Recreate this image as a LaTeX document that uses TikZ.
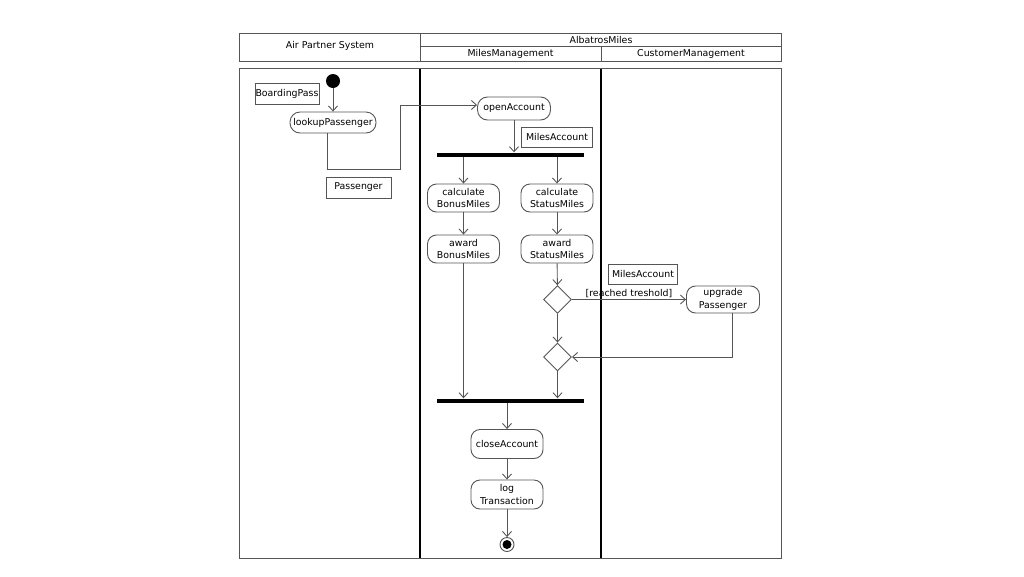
\documentclass[tikz,border=0pt]{standalone}
\usepackage{fontspec}
\setmainfont{DejaVu Sans}
\usetikzlibrary{arrows.meta,shapes.geometric}
\definecolor{ln}{HTML}{555555}
\tikzset{
  txt/.style={font=\fontsize{9.4}{12.8}\selectfont, text=black},
  act/.style={txt, draw=ln, line width=0.9pt, rounded corners=9pt, align=center, inner sep=0pt},
  obj/.style={txt, draw=ln, line width=0.9pt, inner sep=0pt},
  bar/.style={fill=black, inner sep=0pt, minimum width=147pt, minimum height=4pt},
  dec/.style={diamond, draw=ln, line width=0.9pt, inner sep=0pt, minimum width=28pt, minimum height=28pt},
  arr/.style={draw=ln, line width=0.9pt, -{Straight Barb[length=5pt,width=9pt]}},
  cell/.style={draw=ln, line width=0.9pt},
  lane/.style={draw=black, line width=1.6pt}
}
\begin{document}
\begin{tikzpicture}[x=1pt,y=-1pt]
\useasboundingbox (0,0) rectangle (1024,576);
\fill[white] (0,0) rectangle (1024,576);
% header
\draw[cell] (239,33) rectangle (781,61);
\draw[cell] (420,33) -- (420,61);
\draw[cell] (420,46) -- (781,46);
\draw[cell] (601,46) -- (601,61);
\node[txt] (hA) at (330,46) {Air Partner System};
\node[txt] (hB) at (601,39.5) {AlbatrosMiles};
\node[txt] (hC) at (510.5,53.5) {MilesManagement};
\node[txt] (hD) at (691,53.5) {CustomerManagement};
% body
\draw[cell] (239,68.5) rectangle (781,558);
\draw[lane] (420,68.5) -- (420,558);
\draw[lane] (601,68.5) -- (601,558);
% nodes
\node[circle, fill=black, inner sep=0pt, minimum size=14pt] (init) at (333,81) {};
\node[obj, minimum width=64pt, minimum height=21pt] (bp) at (287,93.5) {BoardingPass};
\node[act, minimum width=86pt, minimum height=21pt, rounded corners=10pt] (lookup) at (333,122.5) {lookupPassenger};
\node[obj, minimum width=65pt, minimum height=21pt] (pas) at (358.5,187.5) {Passenger};
\node[act, minimum width=73pt, minimum height=23pt, rounded corners=10pt] (open) at (514,108.5) {openAccount};
\node[obj, minimum width=71pt, minimum height=20pt] (ma1) at (557,137) {MilesAccount};
\node[bar] (fork) at (510.5,154.5) {};
\node[act, minimum width=72pt, minimum height=28pt] (cbm) at (463.5,198) {calculate\\BonusMiles};
\node[act, minimum width=72pt, minimum height=28pt] (csm) at (557,198) {calculate\\StatusMiles};
\node[act, minimum width=72pt, minimum height=28pt] (abm) at (463.5,249) {award\\BonusMiles};
\node[act, minimum width=72pt, minimum height=28pt] (asm) at (557,249) {award\\StatusMiles};
\node[dec] (d1) at (557.5,299.5) {};
\node[dec] (d2) at (557.5,357) {};
\node[obj, minimum width=69pt, minimum height=20pt] (ma2) at (643,274) {MilesAccount};
\node[act, minimum width=73pt, minimum height=27pt] (up) at (723,299.5) {upgrade\\Passenger};
\node[bar] (join) at (510.5,400.5) {};
\node[act, minimum width=72pt, minimum height=29pt] (close) at (507,444) {closeAccount};
\node[act, minimum width=72pt, minimum height=29pt] (log) at (507,494.5) {log\\Transaction};
\node[circle, draw=ln, line width=0.9pt, inner sep=0pt, minimum size=14pt] (fin) at (507,544.5) {};
\fill[black] (fin.center) circle (4.5pt);
% connectors
\coordinate (c1) at (400,169);
\draw[arr] (init) -- (lookup);
\draw[arr] ([xshift=-6pt]lookup.south) |- (c1) |- ([yshift=3.5pt]open.west);
\draw[arr] (open) -- (open |- fork.north);
\draw[arr] (fork.south -| cbm) -- (cbm);
\draw[arr] (fork.south -| csm) -- (csm);
\draw[arr] (cbm) -- (abm);
\draw[arr] (csm) -- (asm);
\draw[arr] (asm) -- (d1);
\draw[arr] (d1) -- (d2);
\draw[arr] (d1.east) -- node[txt, above, inner sep=1pt] (lbl) {[reached treshold]} (up.west);
\draw[arr] ([xshift=9pt]up.south) |- (d2.east);
\draw[arr] (abm) -- (abm |- join.north);
\draw[arr] (d2) -- (d2 |- join.north);
\draw[arr] (join.south -| close) -- (close);
\draw[arr] (close) -- (log);
\draw[arr] (log) -- (fin);
\end{tikzpicture}
\end{document}
